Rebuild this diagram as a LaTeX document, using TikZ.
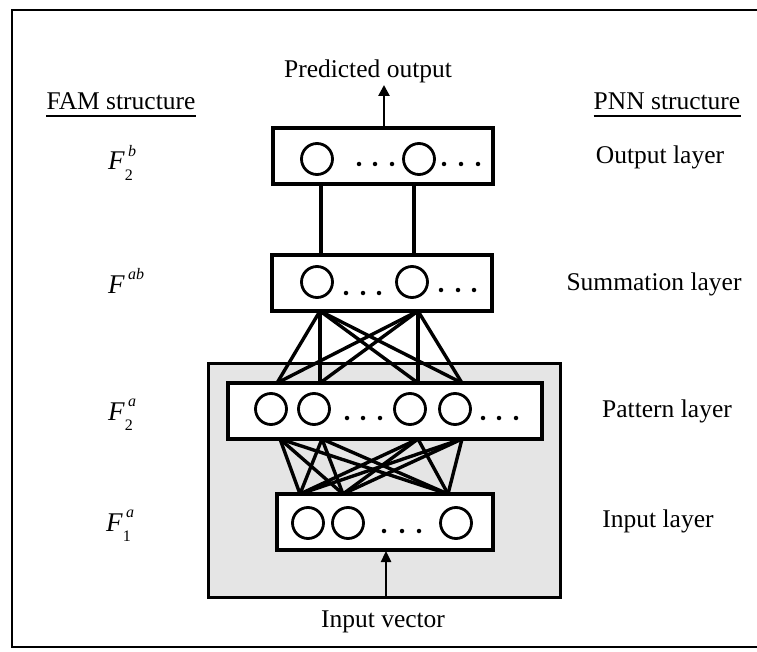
\documentclass[tikz,border=0pt]{standalone}
\usepackage{fontspec}
\setmainfont{Liberation Serif}
\usetikzlibrary{arrows.meta}

% F with stacked sub/superscript, as in F_2^b
\newcommand{\famsym}[2]{\textit{F}\makebox[0pt][l]{\raisebox{-0.38em}{\fontsize{16}{16}\selectfont #1}}\hspace{0.12em}\raisebox{0.5em}{\fontsize{16}{16}\selectfont\textit{#2}}}

\begin{document}
\begin{tikzpicture}[x=1pt,y=-1pt,
  txt/.style={font=\fontsize{25.5}{28}\selectfont, inner sep=0pt},
  famtxt/.style={font=\fontsize{27}{29}\selectfont, inner sep=0pt},
  layerbox/.style={draw, line width=3.2pt, fill=white, inner sep=0pt, minimum height=56pt},
  unit/.style={circle, draw, line width=2.8pt, minimum size=31pt, inner sep=0pt},
  link/.style={line width=3.4pt},
  ddot/.style={circle, fill=black, inner sep=0pt, minimum size=4.5pt}]
\useasboundingbox (0,0) rectangle (757,652);

% outer frame (open on the right)
\draw[line width=2.4pt] (757,10) -- (12,10) -- (12,647) -- (757,647);

% shaded region holding pattern and input layers
\node[draw, line width=3pt, fill=gray!20, minimum width=352pt, minimum height=234pt, inner sep=0pt] (shade) at (384,480) {};

% layer boxes
\node[layerbox, minimum width=220pt] (outbox) at (383,156) {};
\node[layerbox, minimum width=220pt] (sumbox) at (382,283) {};
\node[layerbox, minimum width=314pt] (patbox) at (385,411) {};
\node[layerbox, minimum width=216pt] (inbox)  at (385,522) {};

% units of the output layer
\node[unit] (o1) at (317,159) {};
\node[unit] (o2) at (419,159) {};
\foreach \x [count=\i] in {359,375,392} \node[ddot] (od\i) at (\x,164) {};
\foreach \x [count=\i] in {444,461,478} \node[ddot] (oe\i) at (\x,164) {};

% units of the summation layer
\node[unit] (s1) at (317,282) {};
\node[unit] (s2) at (412,282) {};
\foreach \x [count=\i] in {346,363,379} \node[ddot] (sd\i) at (\x,293) {};
\foreach \x [count=\i] in {441,458,474} \node[ddot] (se\i) at (\x,290) {};

% units of the pattern layer
\node[unit] (p1) at (271,409) {};
\node[unit] (p2) at (314,409) {};
\node[unit] (p3) at (410,409) {};
\node[unit] (p4) at (455,409) {};
\foreach \x [count=\i] in {347,363,380} \node[ddot] (pd\i) at (\x,418) {};
\foreach \x [count=\i] in {483,499,516} \node[ddot] (pe\i) at (\x,418) {};

% units of the input layer
\node[unit] (i1) at (308,523) {};
\node[unit] (i2) at (348,523) {};
\node[unit] (i3) at (456,523) {};
\foreach \x [count=\i] in {384,402,419} \node[ddot] (id\i) at (\x,531) {};

% attachment points on the box edges
\coordinate (ob1) at (321,184);  \coordinate (ob2) at (414,184);
\coordinate (st1) at (321,255);  \coordinate (st2) at (414,255);
\coordinate (sb1) at (320,311);  \coordinate (sb2) at (418,311);
\coordinate (pt1) at (277,383);  \coordinate (pt2) at (320,383);
\coordinate (pt3) at (418,383);  \coordinate (pt4) at (462,383);
\coordinate (pb1) at (280,439);  \coordinate (pb2) at (322,439);
\coordinate (pb3) at (418,439);  \coordinate (pb4) at (462,439);
\coordinate (it1) at (300,494);  \coordinate (it2) at (343,494);
\coordinate (it3) at (448,494);
\coordinate (otop) at (384,128);
\coordinate (ptip) at (384,85);
\coordinate (ibot) at (386,551);
\coordinate (sbot) at (386,597);

% connections
\draw[link] (ob1) -- (st1);
\draw[link] (ob2) -- (st2);
\foreach \s in {sb1,sb2}
  \foreach \p in {pt1,pt2,pt3,pt4}
    \draw[link] (\s) -- (\p);
\foreach \p in {pb1,pb2,pb3,pb4}
  \foreach \q in {it1,it2,it3}
    \draw[link] (\p) -- (\q);

% input and output arrows
\node[txt] (pred) at (368,71) {Predicted output};
\node[txt] (invec) at (383,622) {Input vector};
\draw[line width=2.6pt, -{Triangle[length=11pt,width=11pt]}] (otop) -- (ptip);
\draw[line width=2.4pt, -{Triangle[length=11pt,width=10pt]}] (sbot) -- (ibot);

% headings
\node[txt, anchor=base] (fam) at (121,110) {FAM structure};
\draw[line width=1.8pt] ([yshift=-6pt]fam.base west) -- ([yshift=-6pt]fam.base east);
\node[txt, anchor=base] (pnn) at (667,110) {PNN structure};
\draw[line width=1.8pt] ([yshift=-6pt]pnn.base west) -- ([yshift=-6pt]pnn.base east);

% FAM symbols
\node[famtxt, anchor=base west] (f2b) at (108,170) {\famsym{2}{b}};
\node[famtxt, anchor=base west] (fab) at (108,293) {\famsym{}{ab}};
\node[famtxt, anchor=base west] (f2a) at (108,420) {\famsym{2}{a}};
\node[famtxt, anchor=base west] (f1a) at (106,531) {\famsym{1}{a}};

% PNN layer names
\node[txt] (lout) at (660,157) {Output layer};
\node[txt] (lsum) at (654,284) {Summation layer};
\node[txt] (lpat) at (667,411) {Pattern layer};
\node[txt] (linp) at (658,521) {Input layer};
\end{tikzpicture}
\end{document}
